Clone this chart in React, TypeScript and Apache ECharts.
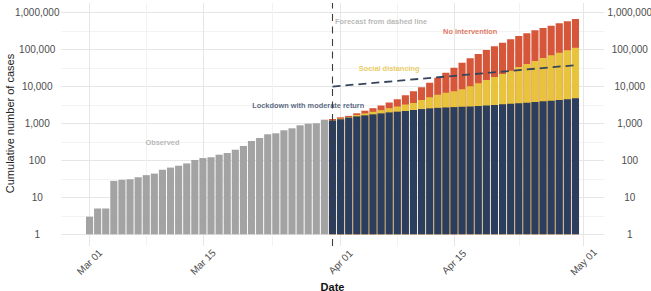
import React, { useEffect, useRef } from 'react';
import * as echarts from 'echarts';

// ---------- data ----------
const MONTHS = ['Jan', 'Feb', 'Mar', 'Apr', 'May', 'Jun'];
const AXIS_START = Date.UTC(2020, 1, 27); // first category on the date axis
const AXIS_DAYS = 67; // Feb 27 .. May 03

const observedStart = 'Mar 01';
const observed = [
  3, 5, 5, 28, 30, 31, 35, 40, 44, 56, 64, 72, 83, 103, 116, 122, 143, 159, 195, 246,
  336, 405, 510, 543, 655, 741, 894, 988, 1013, 1268,
];

const forecastStart = 'Mar 31';
const lockdown = [
  1200, 1300, 1450, 1560, 1660, 1770, 1880, 2000, 2090, 2180, 2320, 2460, 2570, 2650, 2720, 2780,
  2840, 2900, 2980, 3050, 3170, 3310, 3440, 3520, 3660, 3820, 3990, 4150, 4330, 4530, 4820,
];
const socialDistancing = [
  1230, 1350, 1500, 1700, 1880, 2070, 2300, 2600, 2870, 3250, 3590, 4330, 5130, 6030, 6830, 7500,
  8440, 10180, 12270, 15080, 18170, 21900, 26900, 33900, 40850, 49300, 59400, 70300, 82600, 95900, 113000,
];
const noIntervention = [
  1320, 1470, 1610, 1890, 2220, 2600, 3050, 3700, 4560, 5800, 7450, 9550, 12740, 17400, 23800, 32450,
  44300, 58300, 76300, 97800, 123000, 154000, 190600, 234000, 277000, 334000, 386000, 446000, 516000, 585000, 676000,
];

const trendDates = ['Mar 31', 'Apr 30'];
const trendValues = [10000, 38000];

const xTickLabels = ['Mar 01', 'Mar 15', 'Apr 01', 'Apr 15', 'May 01'];
const xMinorGrid = ['Mar 08', 'Mar 23 12h', 'Apr 08', 'Apr 23'];
const yTickValues = [1, 10, 100, 1000, 10000, 100000, 1000000];

const annotationTexts = ['Observed', 'Lockdown with moderate return', 'Forecast from dashed line', 'Social distancing', 'No intervention'];
const annotationDates = ['Mar 10', 'Mar 28', 'Apr 06', 'Apr 07', 'Apr 17'];
const annotationValues = [310, 3160, 562000, 31300, 314000];
const annotationColors = ['#a6a6a6', '#2c3e5e', '#a6a6a6', '#e6c03a', '#d6563a'];

// ---------- helpers ----------
const FONT = '"Liberation Sans", Arial, Helvetica, sans-serif';
const dayLabel = (i: number) => {
  const d = new Date(AXIS_START + i * 86400000);
  return `${MONTHS[d.getUTCMonth()]} ${String(d.getUTCDate()).padStart(2, '0')}`;
};
const days = Array.from({ length: AXIS_DAYS }, (_, i) => dayLabel(i));
const halfDays: string[] = [];
days.forEach((d, i) => {
  halfDays.push(d);
  if (i < days.length - 1) halfDays.push(`${d} 12h`);
});
const gridSet = new Set([...xTickLabels, ...xMinorGrid]);

const place = (start: string, values: number[]) => {
  const arr: (number | null)[] = days.map(() => null);
  const s = days.indexOf(start);
  values.forEach((v, k) => {
    arr[s + k] = Math.log10(v);
  });
  return arr;
};
const trendData: (number | null)[] = days.map(() => null);
trendDates.forEach((d, k) => {
  trendData[days.indexOf(d)] = Math.log10(trendValues[k]);
});

const yFormatter = (v: number) => {
  const val = Math.round(Math.pow(10, v));
  if (Math.abs(v - Math.round(v)) > 1e-6 || !yTickValues.includes(val)) return '';
  return val.toLocaleString('en-US');
};

export default function App() {
  const ref = useRef<HTMLDivElement>(null);
  useEffect(() => {
    document.body.style.margin = '0';
    const chart = echarts.init(ref.current!, undefined, { renderer: 'svg' });
    const barCommon = {
      type: 'bar' as const,
      xAxisIndex: 0,
      yAxisIndex: 0,
      barGap: '-100%',
      barCategoryGap: '12%',
      silent: true,
    };
    chart.setOption({
      animation: false,
      backgroundColor: '#ffffff',
      textStyle: { fontFamily: FONT },
      grid: [
        { left: 61.2, right: 47.2, top: 12.7, height: 221.6, containLabel: false, outerBoundsMode: 'none' },
        { left: 65.25, right: 51.25, top: 3, height: 243, containLabel: false, outerBoundsMode: 'none' },
      ],
      xAxis: [
        { type: 'category', gridIndex: 0, data: days, boundaryGap: true, show: false },
        {
          type: 'category',
          gridIndex: 1,
          data: halfDays,
          boundaryGap: false,
          axisLine: { show: false },
          axisTick: { show: false },
          axisLabel: {
            interval: (_i: number, v: string) => xTickLabels.includes(v),
            rotate: 45,
            align: 'center',
            verticalAlign: 'middle',
            margin: 16,
            fontSize: 10,
            color: '#4d4d4d',
            fontFamily: FONT,
          },
          splitLine: {
            show: true,
            interval: (_i: number, v: string) => gridSet.has(v),
            lineStyle: { color: ['#e6e6e6', '#f2f2f2'], width: 1 },
          },
          name: 'Date',
          nameLocation: 'middle',
          nameGap: 35,
          nameMoveOverlap: false,
          nameTextStyle: { fontSize: 11, fontWeight: 'bold', color: '#111', fontFamily: FONT },
        },
      ],
      yAxis: [
        {
          type: 'value',
          gridIndex: 0,
          position: 'left',
          min: 0,
          max: 6,
          interval: 0.5,
          axisLine: { show: false },
          axisTick: { show: false },
          axisLabel: { formatter: yFormatter, align: 'center', margin: 24, fontSize: 10, color: '#4d4d4d', fontFamily: FONT },
          splitLine: { show: true, lineStyle: { color: ['#e6e6e6', '#f3f3f3'], width: 1 } },
          name: 'Cumulative number of cases',
          nameLocation: 'middle',
          nameRotate: 90,
          nameGap: 46,
          nameMoveOverlap: false,
          nameTextStyle: { fontSize: 11, color: '#222', fontFamily: FONT },
        },
        {
          type: 'value',
          gridIndex: 0,
          position: 'right',
          min: 0,
          max: 6,
          interval: 0.5,
          axisLine: { show: false },
          axisTick: { show: false },
          axisLabel: { formatter: yFormatter, align: 'center', margin: 26, fontSize: 10, color: '#4d4d4d', fontFamily: FONT },
          splitLine: { show: false },
        },
        { type: 'value', gridIndex: 1, min: 0, max: 1, show: false },
      ],
      series: [
        { ...barCommon, name: 'No intervention', data: place(forecastStart, noIntervention), itemStyle: { color: '#d6563a' } },
        { ...barCommon, name: 'Social distancing', data: place(forecastStart, socialDistancing), itemStyle: { color: '#e8c43c' } },
        { ...barCommon, name: 'Lockdown with moderate return', data: place(forecastStart, lockdown), itemStyle: { color: '#2c3e5e' } },
        { ...barCommon, name: 'Observed', data: place(observedStart, observed), itemStyle: { color: '#a3a3a3' } },
        {
          type: 'line',
          name: 'Trend',
          xAxisIndex: 0,
          yAxisIndex: 0,
          data: trendData,
          connectNulls: true,
          symbol: 'none',
          silent: true,
          lineStyle: { color: '#36455a', width: 1.8, type: [8, 5] },
          z: 5,
        },
        {
          type: 'scatter',
          name: 'Annotations',
          xAxisIndex: 0,
          yAxisIndex: 0,
          symbolSize: 0,
          silent: true,
          z: 6,
          data: annotationTexts.map((t, i) => ({
            name: t,
            value: [annotationDates[i], Math.log10(annotationValues[i])],
            label: { color: annotationColors[i] },
          })),
          label: {
            show: true,
            position: 'inside',
            formatter: '{b}',
            fontSize: 7.4,
            fontWeight: 'bold',
            fontFamily: FONT,
          },
        },
        {
          type: 'line',
          name: 'Forecast start',
          xAxisIndex: 1,
          yAxisIndex: 2,
          data: [],
          silent: true,
          markLine: {
            silent: true,
            symbol: ['none', 'none'],
            label: { show: false },
            lineStyle: { color: '#3c3c3c', width: 1.1, type: [7, 5.5] },
            data: [{ xAxis: forecastStart }],
          },
        },
      ],
    });
    return () => chart.dispose();
  }, []);
  return <div ref={ref} style={{ width: 651, height: 291 }} />;
}
